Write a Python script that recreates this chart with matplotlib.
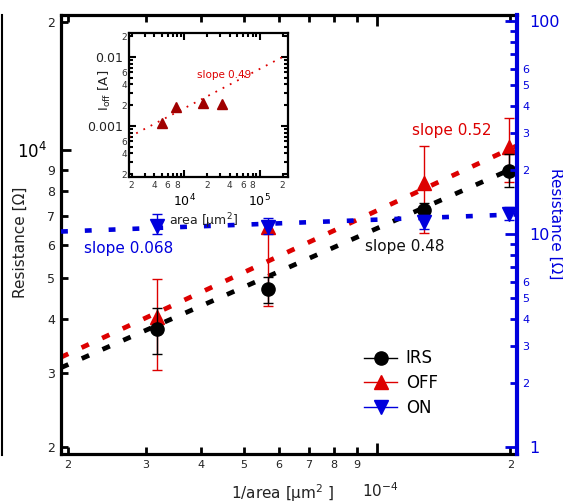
import numpy as np
import matplotlib.pyplot as plt
from matplotlib.lines import Line2D
from matplotlib.ticker import LogLocator, FuncFormatter

# main data: 1/area [um^-2] vs resistance
inv_area = [3.18e-5, 5.66e-5, 1.273e-4, 1.99e-4]
irs = [3790, 4710, 7220, 8930]
irs_lo = [3310, 4370, 6960, 8180]
irs_hi = [4250, 5020, 7500, 9790]
off = [4050, 6600, 8360, 10160]
off_lo = [3035, 4300, 6380, 8410]
off_hi = [4970, 6700, 10220, 11890]
on = [10.9, 10.8, 11.4, 12.4]
on_lo = [10.0, 10.0, 10.6, 11.7]
on_hi = [12.4, 11.9, 12.3, 13.5]

# fitted lines (end points)
fit_x = [1.93e-5, 2.07e-4]
irs_fit = [3080, 9150]
off_fit = [3260, 10250]
on_fit = [10.3, 12.4]

# inset: area vs I_off
area = [5027, 7854, 17671, 31416]
ioff = [1.105e-3, 1.88e-3, 2.15e-3, 2.08e-3]
area_fit = [1850, 2.0e5]
ioff_fit = [6.9e-4, 1.0e-2]

RED = '#dd0000'
BLUE = '#0000dd'
W, H = 563, 503

plt.rcParams['font.family'] = 'DejaVu Sans'


def digit_fmt(keep):
    def f(v, pos):
        d = int(round(v / 10 ** np.floor(np.log10(v))))
        return str(d) if d in keep else ''
    return FuncFormatter(f)


fig = plt.figure(figsize=(W / 100, H / 100), dpi=100)
ax = fig.add_axes([61 / W, 1 - 454 / H, (517 - 61) / W, (454 - 15) / H])
ax.set_xscale('log')
ax.set_yscale('log')
ax.set_xlim(1.93e-5, 2.07e-4)
ax.set_ylim(1.93e3, 2.08e4)

dash = dict(lw=3.4, dashes=(1.7, 3.1), dash_capstyle='butt')
ax.plot(fit_x, irs_fit, color='black', **dash)
ax.plot(fit_x, off_fit, color=RED, **dash)

err_irs = [np.array(irs) - np.array(irs_lo), np.array(irs_hi) - np.array(irs)]
err_off = [np.array(off) - np.array(off_lo), np.array(off_hi) - np.array(off)]
ax.errorbar(inv_area, off, yerr=err_off, fmt='^', color=RED, ms=10,
            elinewidth=1, capsize=3.5, capthick=1, zorder=3)
ax.errorbar(inv_area, irs, yerr=err_irs, fmt='o', color='black', ms=9.5,
            elinewidth=1, capsize=3.5, capthick=1, zorder=4)

ax.xaxis.set_major_locator(LogLocator(10, subs=(1.0,)))
ax.xaxis.set_minor_locator(LogLocator(10, subs=np.arange(2, 10)))
ax.xaxis.set_major_formatter(FuncFormatter(lambda v, p: ''))
ax.xaxis.set_minor_formatter(digit_fmt(range(2, 10)))
ax.yaxis.set_major_locator(LogLocator(10, subs=(1.0,)))
ax.yaxis.set_minor_locator(LogLocator(10, subs=np.arange(2, 10)))
ax.yaxis.set_minor_formatter(digit_fmt(range(2, 10)))

ax.tick_params(which='both', direction='in', top=True, right=False, width=2, colors='black')
ax.tick_params(axis='x', which='major', length=8, pad=6)
ax.tick_params(axis='x', which='minor', length=5, pad=4, labelsize=8, labelcolor='#222222')
ax.tick_params(axis='y', which='major', length=7, pad=10, labelsize=12)
ax.tick_params(axis='y', which='minor', length=5, pad=4, labelsize=9, labelcolor='#222222')
for s in ['left', 'bottom', 'top']:
    ax.spines[s].set_linewidth(2.3)
ax.spines['right'].set_visible(False)

ax.text(84 / W, 1 - 249 / H, 'slope 0.068', transform=fig.transFigure, color=BLUE,
        fontsize=11, va='center', ha='left')
ax.text(365 / W, 1 - 247 / H, 'slope 0.48', transform=fig.transFigure, color='#111111',
        fontsize=11, va='center', ha='left')
ax.text(412 / W, 1 - 131 / H, 'slope 0.52', transform=fig.transFigure, color=RED,
        fontsize=11, va='center', ha='left')

# right axis (ON resistance)
ax2 = ax.twinx()
ax2.set_yscale('log')
ax2.set_ylim(0.93, 107)
ax2.plot(fit_x, on_fit, color=BLUE, lw=3.3, dashes=(1.5, 3.7), dash_capstyle='butt')
err_on = [np.array(on) - np.array(on_lo), np.array(on_hi) - np.array(on)]
ax2.errorbar(inv_area, on, yerr=err_on, fmt='v', color=BLUE, ms=10,
             elinewidth=1, capsize=3.5, capthick=1, zorder=5)
for s in ['left', 'bottom', 'top']:
    ax2.spines[s].set_visible(False)
ax2.spines['right'].set_color(BLUE)
ax2.spines['right'].set_linewidth(3)
ax2.yaxis.set_major_locator(LogLocator(10, subs=(1.0,)))
ax2.yaxis.set_minor_locator(LogLocator(10, subs=np.arange(2, 10)))
ax2.yaxis.set_major_formatter(FuncFormatter(lambda v, p: '%g' % v))
ax2.yaxis.set_minor_formatter(digit_fmt([2, 3, 4, 5, 6]))
ax2.tick_params(which='both', direction='in', width=2, color=BLUE, labelcolor=BLUE)
ax2.tick_params(which='major', length=9, pad=9, labelsize=11.5)
ax2.tick_params(which='minor', length=5, pad=4, labelsize=8)

handles = [Line2D([], [], color='black', marker='o', ms=9.5, lw=1),
           Line2D([], [], color=RED, marker='^', ms=10, lw=1),
           Line2D([], [], color=BLUE, marker='v', ms=10, lw=1)]
ax2.legend(handles, ['IRS', 'OFF', 'ON'], loc='center left', frameon=False,
           bbox_to_anchor=(364 / W, 1 - 383 / H), bbox_transform=fig.transFigure,
           borderpad=0, borderaxespad=0, fontsize=12, handlelength=2.0,
           handletextpad=0.5, labelspacing=0.4)

fig.text(20 / W, 1 - 242 / H, 'Resistance [Ω]', rotation=90, ha='center', va='center',
         fontsize=11, color='#222222')
fig.text(556 / W, 1 - 224 / H, 'Resistance [Ω]', rotation=270, ha='center', va='center',
         fontsize=11, color=BLUE)
fig.text(283 / W, 1 - 493 / H, '1/area [μm$^{2}$ ]', ha='center', va='center', fontsize=11,
         color='#222222')
fig.text(362 / W, 1 - 491 / H, '10$^{-4}$', ha='left', va='center', fontsize=11, color='#222222')

# inset
axi = fig.add_axes([129 / W, 1 - 177 / H, (288 - 129) / W, (177 - 33) / H])
axi.set_xscale('log')
axi.set_yscale('log')
axi.set_xlim(1850, 2.36e5)
axi.set_ylim(1.82e-4, 2.23e-2)
axi.plot(area_fit, ioff_fit, color=RED, lw=1.3, linestyle=(0, (1, 3.5)))
axi.plot(area, ioff, '^', color='#a00000', ms=6.5)
axi.text(197 / W, 1 - 75 / H, 'slope 0.49', transform=fig.transFigure, color=RED,
         fontsize=7.5, va='center', ha='left')
axi.xaxis.set_major_locator(LogLocator(10, subs=(1.0,)))
axi.xaxis.set_minor_locator(LogLocator(10, subs=np.arange(2, 10)))
axi.xaxis.set_minor_formatter(digit_fmt([2, 4, 6, 8]))
axi.yaxis.set_major_locator(LogLocator(10, subs=(1.0,)))
axi.yaxis.set_minor_locator(LogLocator(10, subs=np.arange(2, 10)))
axi.yaxis.set_major_formatter(FuncFormatter(lambda v, p: '%g' % v))
axi.yaxis.set_minor_formatter(digit_fmt([2, 4, 6]))
axi.tick_params(which='both', direction='in', top=True, right=True, width=1.5)
axi.tick_params(axis='x', which='major', length=5, pad=11, labelsize=9)
axi.tick_params(axis='x', which='minor', length=3, pad=3, labelsize=6.5, labelcolor='#333333')
axi.tick_params(axis='y', which='major', length=5, pad=4, labelsize=9, labelcolor='#222222')
axi.tick_params(axis='y', which='minor', length=3, pad=1.5, labelsize=6.5, labelcolor='#333333')
for s in axi.spines.values():
    s.set_linewidth(1.6)
axi.set_xlabel('area [μm$^{2}$]', fontsize=9, color='#222222')
axi.set_ylabel('I$_{\\mathrm{off}}$ [A]', fontsize=9.5, color='#222222')
axi.xaxis.set_label_coords((203 - 129) / 159, -(211 - 177) / 144)
axi.yaxis.set_label_coords((113 - 129) / 159, 1 - (90 - 33) / 144)

# cropped edge of neighbouring panel
fig.add_artist(Line2D([1.5 / W, 1.5 / W], [1 - 455 / H, 1 - 15 / H], color='black', lw=1.5))

fig.savefig('out.png', dpi=100)
